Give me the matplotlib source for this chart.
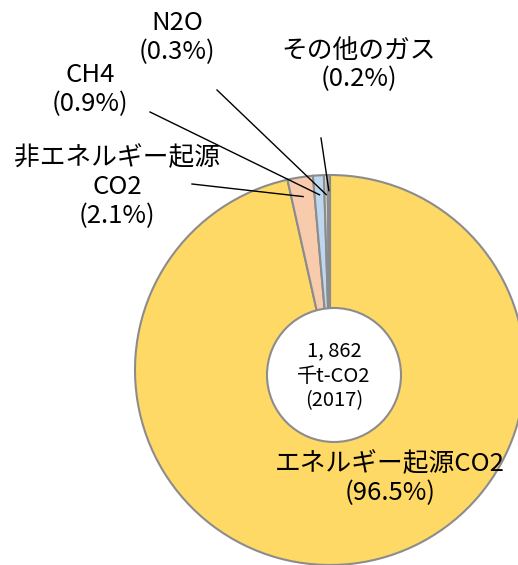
import numpy as np
import matplotlib.pyplot as plt

plt.rcParams['font.family'] = ['Noto Sans CJK JP', 'DejaVu Sans']

labels = ["エネルギー起源CO2", "非エネルギー起源\nCO2", "CH4", "N2O", "その他のガス"]
shares = [96.5, 2.1, 0.9, 0.3, 0.2]
pct_text = ["(96.5%)", "(2.1%)", "(0.9%)", "(0.3%)", "(0.2%)"]
colors = ["#FFD966", "#F8CBAD", "#BDD7EE", "#DBDBDB", "#C5E0B4"]
total_text = "1, 862\n千t-CO2\n(2017)"

W, H = 518, 565
fig = plt.figure(figsize=(W / 100, H / 100), dpi=100)
ax = fig.add_axes([0, 0, 1, 1])

cx, cy, R = 330, H - 370, 195
wedges, _ = ax.pie(shares, colors=colors, startangle=90, counterclock=False,
                   center=(cx, cy), radius=R, frame=True,
                   wedgeprops=dict(edgecolor='#8C8C8C', linewidth=1.5))
ax.set_xlim(0, W)
ax.set_ylim(0, H)
ax.set_aspect('equal')
ax.axis('off')

# white centre circle
ax.add_patch(plt.Circle((334, H - 375), 67, facecolor='white', edgecolor='#8C8C8C',
                        linewidth=1.5, zorder=5))
ax.text(334, H - 376, total_text, ha='center', va='center', fontsize=14.5,
        linespacing=1.25, zorder=6)

# label positions (image pixel coords of text centre)
label_pos = [(390, 479), (117, 187), (90, 90), (177, 38), (359, 65)]
anchor_r = [None, 0.9, 0.9, 0.9, 0.92]
text_xy = [None, (192, 184), (150, 112), (217, 90), (321, 138)]

for i, w in enumerate(wedges):
    lx, ly = label_pos[i]
    ax.text(lx, H - ly, labels[i] + "\n" + pct_text[i], ha='center', va='center',
            fontsize=18.5, linespacing=1.15, zorder=7)
    if anchor_r[i] is not None:
        th = np.deg2rad((w.theta1 + w.theta2) / 2)
        ex = cx + anchor_r[i] * R * np.cos(th)
        ey = cy + anchor_r[i] * R * np.sin(th)
        sx, sy = text_xy[i]
        ax.plot([sx, ex], [H - sy, ey], color='black', linewidth=1, zorder=8)

fig.savefig("out.png", dpi=100)
